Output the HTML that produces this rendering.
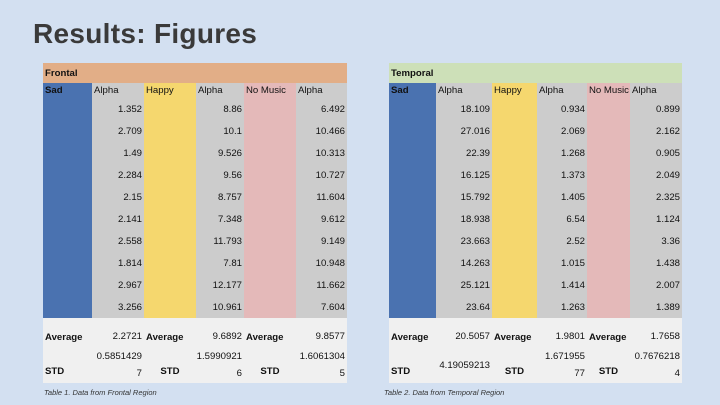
<!DOCTYPE html>
<html><head><meta charset="utf-8"><style>
body{margin:0;width:720px;height:405px;background:#d3e0f1;font-family:"Liberation Sans",sans-serif;position:relative;overflow:hidden}
h1{position:absolute;left:33px;top:18px;margin:0;font-size:28px;font-weight:bold;color:#3a3a3a;letter-spacing:0.3px}
.c{position:absolute;font-size:9.6px;color:#111;box-sizing:border-box;padding:0 2px;display:flex;align-items:center;white-space:nowrap;overflow:hidden}
.r{justify-content:flex-end}
.m{justify-content:center}
.b{font-weight:bold}
.cap{position:absolute;font-size:7.5px;font-style:italic;color:#333}
</style></head><body>
<h1>Results: Figures</h1>
<div id="t1"></div>
<div id="t2"></div>
<div class="cap" style="left:44px;top:388px">Table 1. Data from Frontal Region</div>
<div class="cap" style="left:384px;top:388px">Table 2. Data from Temporal Region</div>
<script>
const frontalSad=[1.352,2.709,1.49,2.284,2.15,2.141,2.558,1.814,2.967,3.256];
const frontalHappy=[8.86,10.1,9.526,9.56,8.757,7.348,11.793,7.81,12.177,10.961];
const frontalNone=[6.492,10.466,10.313,10.727,11.604,9.612,9.149,10.948,11.662,7.604];
const temporalSad=[18.109,27.016,22.39,16.125,15.792,18.938,23.663,14.263,25.121,23.64];
const temporalHappy=[0.934,2.069,1.268,1.373,1.405,6.54,2.52,1.015,1.414,1.263];
const temporalNone=[0.899,2.162,0.905,2.049,2.325,1.124,3.36,1.438,2.007,1.389];
const frontalAvg=["2.2721","9.6892","9.8577"];
const frontalStd=[["0.5851429","7"],["1.5990921","6"],["1.6061304","5"]];
const temporalAvg=["20.5057","1.9801","1.7658"];
const temporalStd=[["","4.19059213"],["1.671955","77"],["0.7676218","4"]];
function cell(parent,x,y,w,h,bg,txt,cls,name){
  const d=document.createElement('div');
  d.className='c '+(cls||'');
  d.style.cssText=`left:${x}px;top:${y}px;width:${w}px;height:${h}px;background:${bg}`;
  d.innerHTML=txt;
  
  
  parent.appendChild(d);
}
function build(id,xs,title,titleBg,sad,hap,none,avg,std){
  const p=document.getElementById(id);
  const w=[];for(let i=0;i<6;i++)w.push(xs[i+1]-xs[i]);
  const L=xs[0],R=xs[6];
  cell(p,L,63,R-L,20,titleBg,title,'b','table-title');
  const colBg=['#4a72b0','#cccccc','#f5d76e','#cccccc','#e4b9b9','#cccccc'];
  const heads=['Sad','Alpha','Happy','Alpha','No Music','Alpha'];
  for(let i=0;i<6;i++)cell(p,xs[i],83,w[i],15,colBg[i],heads[i],i==0?'b':'','header-'+heads[i].toLowerCase().replace(' ','-'));
  const series=[sad,hap,none];
  for(let k=0;k<3;k++){
    cell(p,xs[2*k],98,w[2*k],220,colBg[2*k],'','','condition-column');
    cell(p,xs[2*k+1],98,w[2*k+1],220,'#cccccc','','','alpha-column');
  }
  for(let r=0;r<10;r++){
    const y=98+r*22;
    for(let k=0;k<3;k++){
      cell(p,xs[2*k+1],y,w[2*k+1],22,'transparent',String(series[k][r]),'r','alpha-value');
    }
  }
  const y0=318;
  cell(p,L,y0,R-L,65,'#f0f0f0','','','summary-bg');
  for(let k=0;k<3;k++){
    cell(p,xs[2*k],y0+6,w[2*k],26,'transparent','Average','b','average-label');
    cell(p,xs[2*k+1],y0+6,w[2*k+1],24,'transparent',avg[k],'r','average-value');
    cell(p,xs[2*k],y0+43,w[2*k],20,'transparent','STD','b'+(k?' m':''),'std-label');
    const s=document.createElement('div');
    s.className='c r';
    s.style.cssText=`left:${xs[2*k+1]}px;top:${y0+30}px;width:${w[2*k+1]}px;height:34px;flex-direction:column;align-items:flex-end;justify-content:center;line-height:17px`;
    s.innerHTML='<span>'+std[k][0]+'</span><span>'+std[k][1]+'</span>';
    
    
    p.appendChild(s);
  }
}
build('t1',[43,92,144,196,244,296,347],'Frontal','#e2ae87',frontalSad,frontalHappy,frontalNone,frontalAvg,frontalStd);
build('t2',[389,436,492,537,587,630,682],'Temporal','#cde0b8',temporalSad,temporalHappy,temporalNone,temporalAvg,temporalStd);
</script>
</body></html>
